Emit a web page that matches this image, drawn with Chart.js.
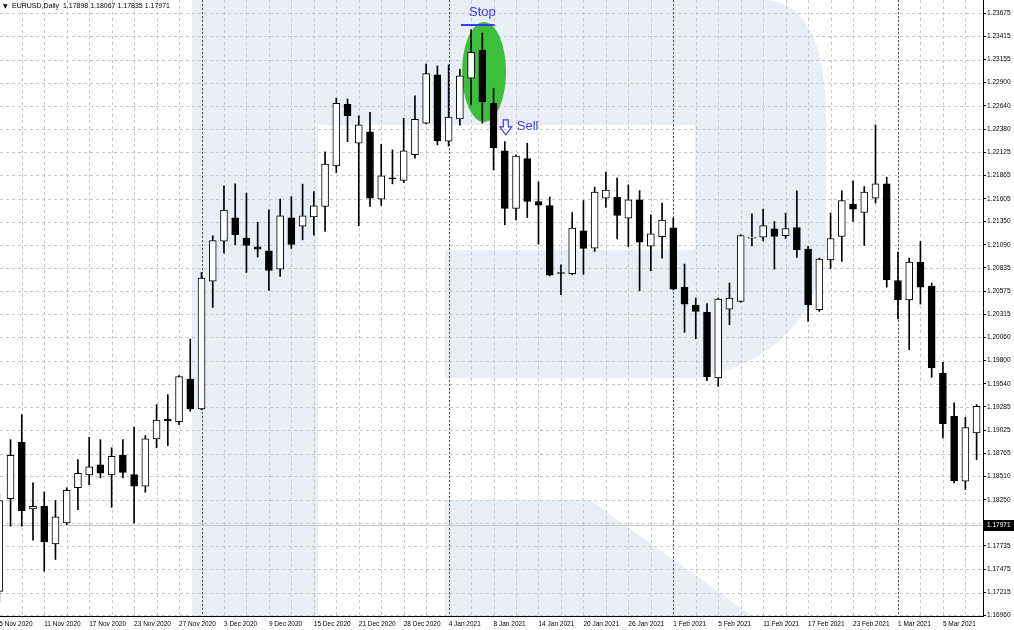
<!DOCTYPE html>
<html>
<head>
<meta charset="utf-8">
<title>EURUSD Daily</title>
<script src="https://cdn.jsdelivr.net/npm/chart.js@4.4.1/dist/chart.umd.min.js"></script>
<style>
    html, body { margin: 0; padding: 0; background: #fff; }
    #wrap { width: 1014px; height: 630px; position: relative; }
</style>
</head>
<body>
<div id="wrap"><canvas id="chart"></canvas></div>
<script>
// header of the chart window: symbol and OHLC of the current bar
const symbolTitle = 'EURUSD,Daily';
const lastBar = [1.17898, 1.18067, 1.17835, 1.17971];

const dates = [
    '5 Nov 2020', '6 Nov 2020', '9 Nov 2020', '10 Nov 2020', '11 Nov 2020', '12 Nov 2020', '13 Nov 2020',
    '16 Nov 2020', '17 Nov 2020', '18 Nov 2020', '19 Nov 2020', '20 Nov 2020', '23 Nov 2020', '24 Nov 2020',
    '25 Nov 2020', '26 Nov 2020', '27 Nov 2020', '30 Nov 2020',
    '1 Dec 2020', '2 Dec 2020', '3 Dec 2020', '4 Dec 2020', '7 Dec 2020', '8 Dec 2020', '9 Dec 2020',
    '10 Dec 2020', '11 Dec 2020', '14 Dec 2020', '15 Dec 2020', '16 Dec 2020', '17 Dec 2020', '18 Dec 2020',
    '21 Dec 2020', '22 Dec 2020', '23 Dec 2020', '24 Dec 2020', '28 Dec 2020', '29 Dec 2020', '30 Dec 2020',
    '31 Dec 2020',
    '4 Jan 2021', '5 Jan 2021', '6 Jan 2021', '7 Jan 2021', '8 Jan 2021', '11 Jan 2021', '12 Jan 2021',
    '13 Jan 2021', '14 Jan 2021', '15 Jan 2021', '18 Jan 2021', '19 Jan 2021', '20 Jan 2021', '21 Jan 2021',
    '22 Jan 2021', '25 Jan 2021', '26 Jan 2021', '27 Jan 2021', '28 Jan 2021', '29 Jan 2021',
    '1 Feb 2021', '2 Feb 2021', '3 Feb 2021', '4 Feb 2021', '5 Feb 2021', '8 Feb 2021', '9 Feb 2021',
    '10 Feb 2021', '11 Feb 2021', '12 Feb 2021', '15 Feb 2021', '16 Feb 2021', '17 Feb 2021', '18 Feb 2021',
    '19 Feb 2021', '22 Feb 2021', '23 Feb 2021', '24 Feb 2021', '25 Feb 2021', '26 Feb 2021',
    '1 Mar 2021', '2 Mar 2021', '3 Mar 2021', '4 Mar 2021', '5 Mar 2021', '8 Mar 2021', '9 Mar 2021',
    '10 Mar 2021'
];

const opens = [
    1.17227, 1.18263, 1.18890, 1.18148, 1.18177, 1.17758, 1.17992, 1.18385, 1.18527, 1.18638,
    1.18527, 1.18745, 1.18530, 1.18400, 1.18928, 1.19150, 1.19120, 1.19596, 1.19262, 1.20687,
    1.21133, 1.21392, 1.21166, 1.21069, 1.21025, 1.20821, 1.21392, 1.21300, 1.21403, 1.21518,
    1.21971, 1.22658, 1.22224, 1.22350, 1.21600, 1.21832, 1.21808, 1.22097, 1.22447, 1.22985,
    1.22246, 1.22495, 1.22948, 1.23263, 1.22669, 1.22138, 1.21496, 1.22052, 1.21574, 1.21529,
    1.20780, 1.20769, 1.21247, 1.21055, 1.21612, 1.21623, 1.21389, 1.21593, 1.21077, 1.21181,
    1.21281, 1.20616, 1.20420, 1.20338, 1.19607, 1.20375, 1.20460, 1.21166, 1.21177, 1.21270,
    1.21192, 1.21284, 1.21044, 1.20368, 1.20924, 1.21184, 1.21545, 1.21451, 1.21612, 1.21771,
    1.20694, 1.20476, 1.20899, 1.20632, 1.19663, 1.19179, 1.18456, 1.18995
];
const highs = [
    1.18307, 1.18920, 1.19198, 1.18438, 1.18337, 1.18241, 1.18382, 1.18697, 1.18946, 1.18920,
    1.18828, 1.18920, 1.19061, 1.18965, 1.19310, 1.19421, 1.19633, 1.20041, 1.20783, 1.21192,
    1.21749, 1.21771, 1.21667, 1.21344, 1.21481, 1.21600, 1.21629, 1.21767, 1.21685, 1.22127,
    1.22725, 1.22717, 1.22528, 1.22569, 1.22213, 1.22149, 1.22502, 1.22751, 1.23107, 1.23085,
    1.23096, 1.23048, 1.23491, 1.23452, 1.22836, 1.22242, 1.22094, 1.22224, 1.21793, 1.21623,
    1.20869, 1.21451, 1.21585, 1.21734, 1.21901, 1.21834, 1.21760, 1.21696, 1.21426, 1.21556,
    1.21389, 1.20877, 1.20498, 1.20435, 1.20498, 1.20665, 1.21203, 1.21437, 1.21489, 1.21351,
    1.21444, 1.21693, 1.21073, 1.20943, 1.21444, 1.21693, 1.21804, 1.21741, 1.22428, 1.21845,
    1.21010, 1.20943, 1.21128, 1.20665, 1.19781, 1.19329, 1.19168, 1.19310
];
const lows = [
    1.17116, 1.17955, 1.17955, 1.17799, 1.17453, 1.17584, 1.17973, 1.18140, 1.18419, 1.18494,
    1.18166, 1.18494, 1.17992, 1.18333, 1.18828, 1.18853, 1.19087, 1.19235, 1.19254, 1.20393,
    1.20999, 1.21092, 1.20783, 1.20955, 1.20583, 1.20739, 1.21050, 1.21147, 1.21200, 1.21240,
    1.21897, 1.22242, 1.21303, 1.21518, 1.21529, 1.21771, 1.21785, 1.22057, 1.22439, 1.22205,
    1.22194, 1.22424, 1.22650, 1.22447, 1.21927, 1.21314, 1.21370, 1.21395, 1.21099, 1.20746,
    1.20535, 1.20757, 1.20761, 1.21017, 1.21507, 1.21158, 1.21073, 1.20579, 1.20802, 1.20943,
    1.20590, 1.20115, 1.20045, 1.19577, 1.19514, 1.20201, 1.20451, 1.21080, 1.21136, 1.20821,
    1.21162, 1.20950, 1.20237, 1.20349, 1.20824, 1.20906, 1.21351, 1.21084, 1.21556, 1.20620,
    1.20264, 1.19922, 1.20431, 1.19614, 1.18939, 1.18438, 1.18363, 1.18697
];
const closes = [
    1.18241, 1.18745, 1.18129, 1.18177, 1.17781, 1.18059, 1.18355, 1.18545, 1.18616, 1.18545,
    1.18734, 1.18553, 1.18400, 1.18928, 1.19139, 1.19128, 1.19622, 1.19262, 1.20721, 1.21139,
    1.21478, 1.21203, 1.21084, 1.21044, 1.20805, 1.21414, 1.21095, 1.21414, 1.21526, 1.21990,
    1.22669, 1.22531, 1.22428, 1.21612, 1.21860, 1.21826, 1.22138, 1.22491, 1.22999, 1.22250,
    1.22514, 1.22974, 1.23237, 1.22687, 1.22175, 1.21496, 1.22079, 1.21574, 1.21534, 1.20754,
    1.20772, 1.21277, 1.21050, 1.21678, 1.21701, 1.21418, 1.21593, 1.21122, 1.21214, 1.21367,
    1.20598, 1.20431, 1.20349, 1.19618, 1.20487, 1.20498, 1.21195, 1.21173, 1.21306, 1.21184,
    1.21273, 1.21036, 1.20420, 1.20932, 1.21162, 1.21585, 1.21489, 1.21678, 1.21771, 1.20702,
    1.20479, 1.20899, 1.20620, 1.19718, 1.19098, 1.18463, 1.19054, 1.19291
];

// price scale labels as the terminal prints them
const priceTicks = [
    1.23675, 1.23415, 1.23155, 1.22900, 1.22640, 1.22380, 1.22125, 1.21865, 1.21605,
    1.21350, 1.21090, 1.20835, 1.20575, 1.20315, 1.20060, 1.19800, 1.19540, 1.19285,
    1.19025, 1.18765, 1.18510, 1.18250, 1.17990, 1.17735, 1.17475, 1.17215, 1.16960
];

// trade markup drawn over the chart
const stopPrice = 1.23541;
const signalBar = 43;        // candle circled in green
const signalPrice = 1.23018;
const sellBar = 45;
const sellPrice = 1.22406;

const FONT = '"Liberation Sans", Arial, sans-serif';
const BLUE = '#3a3af0';
const GREEN = '#3dbf3d';

const wickData = dates.map((d, i) => ({ x: i, y: [lows[i], highs[i]] }));
const bodyData = dates.map((d, i) => ({ x: i, y: [opens[i], closes[i]] }));

function monthOf(d) {
    return d.split(' ').slice(1).join(' ');
}

const backdrop = {
    id: 'backdrop',
    beforeDraw(chart) {
        const { ctx, chartArea: a, scales: { x, y } } = chart;
        ctx.save();
        ctx.fillStyle = '#fff';
        ctx.fillRect(0, 0, chart.width, chart.height);

        ctx.beginPath();
        ctx.rect(a.left, a.top, a.right - a.left, a.bottom - a.top);
        ctx.clip();

        // broker logo watermark (big "R")
        const L = a.left, T = a.top, B = a.bottom;
        ctx.fillStyle = '#e9eef6';
        ctx.beginPath();
        ctx.moveTo(L + 192, T);
        ctx.lineTo(L + 768, T);
        ctx.quadraticCurveTo(L + 826, T + 6, L + 826, T + 120);
        ctx.lineTo(L + 826, T + 250);
        ctx.quadraticCurveTo(L + 812, T + 352, L + 700, T + 378);
        ctx.lineTo(L + 445, T + 378);
        ctx.lineTo(L + 445, T + 250);
        ctx.lineTo(L + 695, T + 250);
        ctx.lineTo(L + 695, T + 125);
        ctx.lineTo(L + 318, T + 125);
        ctx.lineTo(L + 318, B);
        ctx.lineTo(L + 192, B);
        ctx.closePath();
        ctx.fill();
        ctx.beginPath();
        ctx.moveTo(L + 445, T + 500);
        ctx.lineTo(L + 590, T + 500);
        ctx.lineTo(L + 752, B);
        ctx.lineTo(L + 445, B);
        ctx.closePath();
        ctx.fill();

        // dashed grid
        ctx.lineWidth = 1;
        ctx.strokeStyle = '#c8c8c8';
        ctx.setLineDash([3, 3]);
        y.ticks.forEach(t => {
            const py = Math.round(y.getPixelForValue(t.value)) + 0.5;
            ctx.beginPath();
            ctx.moveTo(a.left, py);
            ctx.lineTo(a.right, py);
            ctx.stroke();
        });
        dates.forEach((d, i) => {
            if (i % 2) return;
            const px = Math.round(x.getPixelForValue(i)) + 0.5;
            ctx.beginPath();
            ctx.moveTo(px, a.top);
            ctx.lineTo(px, a.bottom);
            ctx.stroke();
        });

        // month separators
        ctx.strokeStyle = '#505050';
        ctx.setLineDash([2, 2]);
        dates.forEach((d, i) => {
            if (i === 0 || monthOf(d) === monthOf(dates[i - 1])) return;
            const px = Math.round(x.getPixelForValue(i)) + 0.5;
            ctx.beginPath();
            ctx.moveTo(px, a.top);
            ctx.lineTo(px, a.bottom);
            ctx.stroke();
        });
        ctx.restore();
    },
    beforeDatasetsDraw(chart) {
        const { ctx, chartArea: a, scales: { x, y } } = chart;
        ctx.save();
        ctx.beginPath();
        ctx.rect(a.left, a.top, a.right - a.left, a.bottom - a.top);
        ctx.clip();

        // bid line
        const by = Math.round(y.getPixelForValue(lastBar[3])) + 0.5;
        ctx.strokeStyle = '#c8c8c8';
        ctx.lineWidth = 1;
        ctx.beginPath();
        ctx.moveTo(a.left, by);
        ctx.lineTo(a.right, by);
        ctx.stroke();

        // green highlight round the signal candles
        ctx.fillStyle = GREEN;
        ctx.beginPath();
        ctx.ellipse(x.getPixelForValue(signalBar + 0.15), y.getPixelForValue(signalPrice), 22, 50, 0, 0, Math.PI * 2);
        ctx.fill();
        ctx.restore();
    },
    afterDatasetsDraw(chart) {
        const { ctx, scales: { x, y } } = chart;
        ctx.save();
        ctx.fillStyle = BLUE;
        ctx.strokeStyle = BLUE;

        // stop level
        const sy = y.getPixelForValue(stopPrice);
        ctx.lineWidth = 2;
        ctx.beginPath();
        ctx.moveTo(x.getPixelForValue(signalBar - 1.9), sy);
        ctx.lineTo(x.getPixelForValue(signalBar + 1.1), sy);
        ctx.stroke();
        ctx.font = '13px ' + FONT;
        ctx.textAlign = 'center';
        ctx.textBaseline = 'middle';
        ctx.fillText('Stop', x.getPixelForValue(signalBar), sy - 13);

        // sell arrow
        const cx = x.getPixelForValue(sellBar) + 1;
        const cy = y.getPixelForValue(sellPrice);
        const y0 = cy - 7;
        ctx.lineWidth = 1.2;
        ctx.beginPath();
        ctx.moveTo(cx - 2.5, y0);
        ctx.lineTo(cx + 2.5, y0);
        ctx.lineTo(cx + 2.5, y0 + 7);
        ctx.lineTo(cx + 6, y0 + 7);
        ctx.lineTo(cx, y0 + 15);
        ctx.lineTo(cx - 6, y0 + 7);
        ctx.lineTo(cx - 2.5, y0 + 7);
        ctx.closePath();
        ctx.stroke();
        ctx.textAlign = 'left';
        ctx.fillText('Sell', cx + 11, cy);
        ctx.restore();
    },
    afterDraw(chart) {
        const { ctx, chartArea: a, scales: { y } } = chart;
        ctx.save();
        // header
        ctx.fillStyle = '#000';
        ctx.textBaseline = 'middle';
        ctx.font = '6px "DejaVu Sans", sans-serif';
        ctx.fillText('▼', 3, 6);
        ctx.font = '7px ' + FONT;
        ctx.fillText(symbolTitle + '  ' + lastBar.map(v => v.toFixed(5)).join(' '), 12, 6.5);

        // current price box on the price scale
        const py = Math.round(y.getPixelForValue(lastBar[3]));
        ctx.fillRect(a.right, py - 5, chart.width - a.right, 11);
        ctx.fillStyle = '#fff';
        ctx.font = '6.5px ' + FONT;
        ctx.fillText(lastBar[3].toFixed(5), a.right + 4, py + 0.5);
        ctx.restore();
    }
};

const ctx = document.getElementById('chart').getContext('2d');
const chart = new Chart(ctx, {
    type: 'bar',
    data: {
        datasets: [
            {
                label: 'range',
                data: wickData,
                backgroundColor: '#000',
                barThickness: 1,
                grouped: false,
                order: 2
            },
            {
                label: 'body',
                data: bodyData,
                backgroundColor: c => closes[c.dataIndex] >= opens[c.dataIndex] ? '#fff' : '#000',
                borderColor: '#000',
                borderWidth: 1,
                borderSkipped: false,
                barThickness: 7,
                minBarLength: 1,
                grouped: false,
                order: 1
            }
        ]
    },
    options: {
        responsive: true,
        maintainAspectRatio: false,
        animation: false,
        events: [],
        layout: { padding: 0 },
        plugins: {
            legend: { display: false },
            tooltip: { enabled: false }
        },
        scales: {
            x: {
                type: 'linear',
                min: 0.062,
                max: 87.57,
                offset: false,
                grid: { display: false, drawTicks: false },
                border: { display: true, color: '#000', width: 1 },
                ticks: {
                    autoSkip: false,
                    maxRotation: 0,
                    align: 'start',
                    padding: 4,
                    color: '#000',
                    font: { family: FONT, size: 6.5 },
                    callback: v => dates[v]
                },
                afterBuildTicks(s) {
                    s.ticks = dates.map((d, i) => i).filter(i => i % 4 === 0).map(i => ({ value: i }));
                },
                afterFit(s) {
                    s.height = 14;
                    s.paddingLeft = 0;
                    s.paddingRight = 0;
                }
            },
            y: {
                type: 'linear',
                position: 'right',
                min: 1.16954,
                max: 1.23820,
                grid: { display: true, drawOnChartArea: false, drawTicks: true, tickLength: 3, tickColor: '#000' },
                border: { display: true, color: '#000', width: 1 },
                ticks: {
                    autoSkip: false,
                    padding: 1,
                    color: '#000',
                    font: { family: FONT, size: 6.5 },
                    callback: v => v.toFixed(5)
                },
                afterBuildTicks(s) {
                    s.ticks = priceTicks.map(v => ({ value: v }));
                },
                afterFit(s) {
                    s.width = 31;
                    s.paddingTop = 0;
                    s.paddingBottom = 0;
                }
            }
        }
    },
    plugins: [backdrop]
});
</script>
</body>
</html>
